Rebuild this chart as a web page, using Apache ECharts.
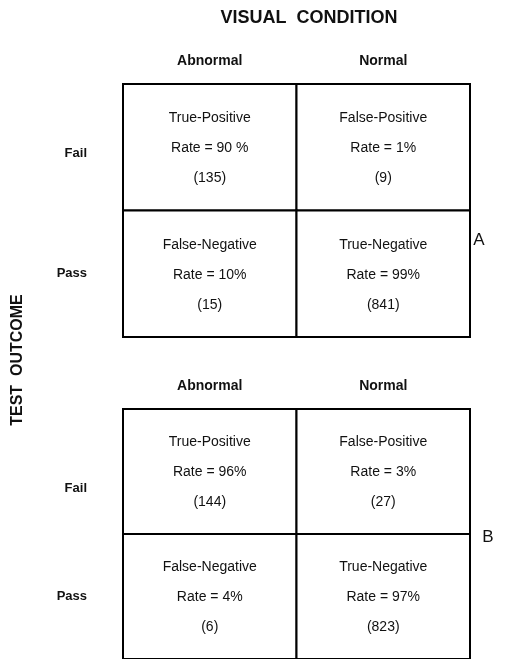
<!DOCTYPE html>
<html>
<head>
<meta charset="utf-8">
<script src="https://cdn.jsdelivr.net/npm/echarts@6/dist/echarts.min.js"></script>
<style>
html, body { margin: 0; padding: 0; background: #fff; }
#chart { width: 523px; height: 659px; }
</style>
</head>
<body>
<div id="chart"></div>
<script>
// visual condition (columns) and test outcome (rows)
const conditions = ['Abnormal', 'Normal'];
const outcomes = ['Fail', 'Pass'];
const cellNames = ['True-Positive', 'False-Positive', 'False-Negative', 'True-Negative'];

// panel A
const ratesA = ['90 %', '1%', '10%', '99%'];
const countsA = [135, 9, 15, 841];
// panel B
const ratesB = ['96%', '3%', '4%', '97%'];
const countsB = [144, 27, 6, 823];

const FONT = '"Liberation Sans", Arial, sans-serif';

function cells(counts) {
  return cellNames.map((name, i) => [i % 2, Math.floor(i / 2), counts[i]]);
}

function makeRender(rates, counts) {
  return function (params, api) {
    const c = api.coord([api.value(0), api.value(1)]);
    const s = api.size([1, 1]);
    const i = params.dataIndex;
    return {
      type: 'group',
      children: [
        {
          type: 'rect',
          shape: { x: c[0] - s[0] / 2, y: c[1] - s[1] / 2, width: s[0], height: s[1] },
          style: { fill: '#fff', stroke: '#000', lineWidth: 2 }
        },
        {
          type: 'text',
          x: c[0],
          y: c[1] + 1,
          style: {
            text: cellNames[i] + '\nRate = ' + rates[i] + '\n(' + counts[i] + ')',
            font: '14px ' + FONT,
            fill: '#111',
            align: 'center',
            verticalAlign: 'middle',
            lineHeight: 30
          }
        }
      ]
    };
  };
}

function xAx(gridIndex) {
  return {
    gridIndex: gridIndex,
    type: 'category',
    data: conditions,
    position: 'top',
    axisLine: { show: false },
    axisTick: { show: false },
    splitLine: { show: false },
    axisLabel: { color: '#111', fontWeight: 'bold', fontSize: 14, fontFamily: FONT, margin: 16 }
  };
}

// row labels sit a little off the row centres in the original
function yAx(gridIndex, failShift, passShift) {
  const lbl = { color: '#111', fontWeight: 'bold', fontSize: 13, fontFamily: FONT };
  return {
    gridIndex: gridIndex,
    type: 'category',
    data: outcomes,
    inverse: true,
    axisLine: { show: false },
    axisTick: { show: false },
    splitLine: { show: false },
    axisLabel: {
      margin: 36,
      formatter: v => (v === 'Fail' ? '{f|' + v + '}' : '{p|' + v + '}'),
      rich: {
        f: Object.assign({ padding: failShift > 0 ? [2 * failShift, 0, 0, 0] : [0, 0, -2 * failShift, 0] }, lbl),
        p: Object.assign({ padding: passShift > 0 ? [2 * passShift, 0, 0, 0] : [0, 0, -2 * passShift, 0] }, lbl)
      }
    }
  };
}

const chart = echarts.init(document.getElementById('chart'));
chart.setOption({
  backgroundColor: '#fff',
  animation: false,
  grid: [
    { left: 123, top: 84, width: 347, height: 253 },
    { left: 123, top: 409, width: 347, height: 254 }
  ],
  xAxis: [xAx(0), xAx(1)],
  yAxis: [yAx(0, 6, 0), yAx(1, 17, 0)],
  series: [
    {
      type: 'custom',
      xAxisIndex: 0,
      yAxisIndex: 0,
      renderItem: makeRender(ratesA, countsA),
      data: cells(countsA)
    },
    {
      type: 'custom',
      xAxisIndex: 1,
      yAxisIndex: 1,
      renderItem: makeRender(ratesB, countsB),
      data: cells(countsB)
    }
  ],
  graphic: [
    {
      type: 'text', x: 309, y: 18,
      style: { text: 'VISUAL  CONDITION', font: 'bold 18px ' + FONT, fill: '#111', align: 'center', verticalAlign: 'middle' }
    },
    {
      type: 'text', x: 18, y: 360, rotation: Math.PI / 2,
      style: { text: 'TEST  OUTCOME', font: 'bold 16px ' + FONT, fill: '#111', align: 'center', verticalAlign: 'middle' }
    },
    {
      type: 'text', x: 479, y: 240,
      style: { text: 'A', font: '17px ' + FONT, fill: '#111', align: 'center', verticalAlign: 'middle' }
    },
    {
      type: 'text', x: 488, y: 537,
      style: { text: 'B', font: '17px ' + FONT, fill: '#111', align: 'center', verticalAlign: 'middle' }
    }
  ]
});
</script>
</body>
</html>
